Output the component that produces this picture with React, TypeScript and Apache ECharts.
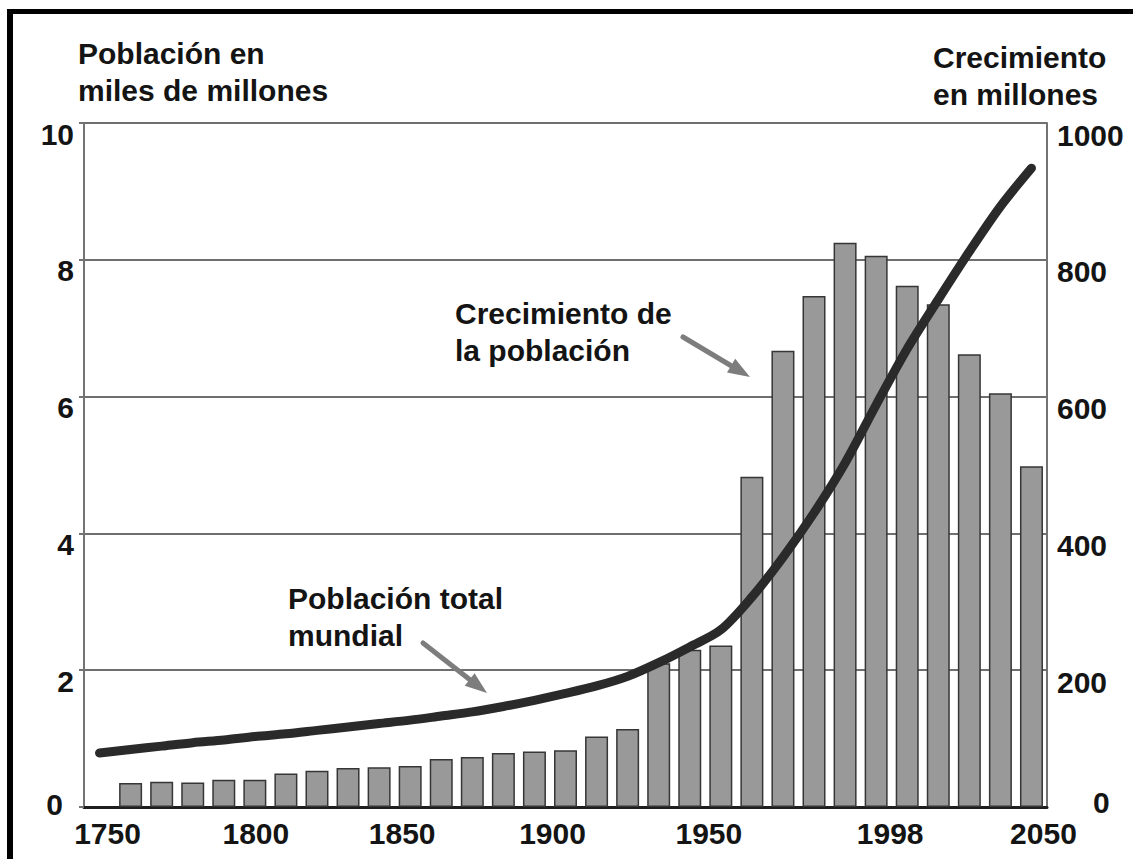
import React, { useEffect, useRef } from "react";
import * as echarts from "echarts";

// Decades on the category axis (first one carries only the population line)
const decades = [
  "1750", "1760", "1770", "1780", "1790", "1800", "1810", "1820", "1830", "1840",
  "1850", "1860", "1870", "1880", "1890", "1900", "1910", "1920", "1930", "1940",
  "1950", "1960", "1970", "1980", "1990", "2000", "2010", "2020", "2030", "2040", "2050",
];

// Growth per decade, millions (right axis)
const growthMillions = [
  null, 35, 37, 36, 40, 40, 49, 53, 57, 58,
  60, 70, 73, 79, 81, 83, 103, 114, 210, 230,
  236, 483, 667, 747, 825, 806, 762, 735, 662, 605, 498,
];

// World population, billions (left axis)
const populationBillions = [
  0.79, 0.84, 0.89, 0.94, 0.98, 1.03, 1.07, 1.12, 1.17, 1.22,
  1.27, 1.33, 1.39, 1.47, 1.56, 1.66, 1.77, 1.91, 2.11, 2.34,
  2.59, 3.07, 3.65, 4.30, 5.03, 5.88, 6.70, 7.42, 8.12, 8.78, 9.34,
];

// Tick labels of the x axis and the category they sit on
const xTickLabels = ["1750", "1800", "1850", "1900", "1950", "1998", "2050"];
const xTickCategory = ["1750", "1800", "1850", "1900", "1950", "2000", "2050"];

const leftTitle = "Población en\nmiles de millones";
const rightTitle = "Crecimiento\nen millones";
const growthNote = "Crecimiento de\nla población";
const popNote = "Población total\nmundial";

const FONT = '"Liberation Sans", Arial, sans-serif';
const FS = 30;
const TXT = "#141414";

// small horizontal nudges of the hand-placed year labels (px, + = right)
const xNudge = [8, 1, -8, -13, -12, 14, 12];

function arrow(x1: number, y1: number, x2: number, y2: number) {
  const dx = x2 - x1, dy = y2 - y1;
  const len = Math.sqrt(dx * dx + dy * dy);
  const ux = dx / len, uy = dy / len;
  const hl = 22, hw = 8;
  const bx = x2 - ux * hl, by = y2 - uy * hl;
  const px = -uy * hw, py = ux * hw;
  return [
    {
      type: "line",
      shape: { x1, y1, x2: bx + ux * 2, y2: by + uy * 2 },
      style: { stroke: "#7d7d7d", lineWidth: 5, lineCap: "round" },
      z: 20,
    },
    {
      type: "polygon",
      shape: { points: [[x2, y2], [bx + px, by + py], [bx - px, by - py]] },
      style: { fill: "#7d7d7d" },
      z: 20,
    },
  ];
}

function textEl(text: string, x: number, y: number) {
  return {
    type: "text",
    x,
    y,
    z: 30,
    style: {
      text,
      font: `bold ${FS}px ${FONT}`,
      fill: TXT,
      lineHeight: 37,
      verticalAlign: "top",
      align: "left",
    },
  };
}

export default function App() {
  const ref = useRef<HTMLDivElement>(null);

  useEffect(() => {
    if (!ref.current) return;
    const chart = echarts.init(ref.current, undefined, { renderer: "svg" });

    const baseLabel = { fontFamily: FONT, fontSize: FS, fontWeight: "bold", color: TXT };

    const xRich: Record<string, any> = {};
    xNudge.forEach((n, k) => {
      xRich["n" + k] = {
        ...baseLabel,
        padding: n >= 0 ? [0, 0, 0, 2 * n] : [0, -2 * n, 0, 0],
      };
    });

    chart.setOption({
      animation: false,
      backgroundColor: "#ffffff",
      grid: { left: 84, right: 86, top: 123, bottom: 52, containLabel: false },
      xAxis: {
        type: "category",
        data: decades,
        boundaryGap: true,
        axisLine: { show: true, lineStyle: { color: "#1e1e1e", width: 3 } },
        axisTick: { show: false },
        splitLine: { show: false },
        axisLabel: {
          interval: 0,
          margin: 11,
          ...baseLabel,
          formatter: (v: string) => {
            const k = xTickCategory.indexOf(v);
            return k < 0 ? "" : `{n${k}|${xTickLabels[k]}}`;
          },
          rich: xRich,
        },
      },
      yAxis: [
        {
          type: "value",
          min: 0,
          max: 10,
          interval: 2,
          position: "left",
          axisLine: { show: true, lineStyle: { color: "#737373", width: 2 } },
          axisTick: { show: true, length: 5, lineStyle: { color: "#737373", width: 2 } },
          splitLine: { show: true, lineStyle: { color: "#6f6f6f", width: 2 } },
          axisLabel: {
            margin: 10,
            align: "right",
            ...baseLabel,
            formatter: (v: number) => (v === 0 ? `{z|0}` : `{a|${v}}`),
            rich: {
              a: { ...baseLabel, padding: [22, 0, 0, 0] },
              z: { ...baseLabel, padding: [0, 11, 6, 0] },
            },
          },
        },
        {
          type: "value",
          min: 0,
          max: 1000,
          interval: 200,
          position: "right",
          axisLine: { show: true, lineStyle: { color: "#737373", width: 2 } },
          axisTick: { show: false },
          splitLine: { show: false },
          axisLabel: {
            margin: 10,
            align: "left",
            ...baseLabel,
            formatter: (v: number) => (v === 0 ? `{z|0}` : `{a|${v}}`),
            rich: {
              a: { ...baseLabel, padding: [24, 0, 0, 0] },
              z: { ...baseLabel, padding: [0, 0, 10, 36] },
            },
          },
        },
      ],
      series: [
        {
          type: "bar",
          name: "Crecimiento",
          yAxisIndex: 1,
          data: growthMillions,
          barWidth: 23,
          itemStyle: { color: "#999999", borderColor: "#363636", borderWidth: 1.5 },
          z: 2,
        },
        {
          type: "line",
          name: "Población",
          yAxisIndex: 0,
          data: populationBillions,
          smooth: 0.3,
          showSymbol: false,
          symbol: "none",
          lineStyle: { color: "#2a2a2a", width: 9, cap: "round" },
          z: 5,
        },
      ],
      graphic: [
        // frame of the picture
        {
          type: "line",
          shape: { x1: 10, y1: 9, x2: 10, y2: 859 },
          style: { stroke: "#000", lineWidth: 6 },
          z: 40,
        },
        {
          type: "line",
          shape: { x1: 7, y1: 11.5, x2: 1133, y2: 11.5 },
          style: { stroke: "#000", lineWidth: 5 },
          z: 40,
        },
        textEl(leftTitle, 78, 35),
        textEl(rightTitle, 933, 39),
        textEl(growthNote, 455, 295),
        textEl(popNote, 288, 580),
        ...arrow(683, 337, 750, 377),
        ...arrow(423, 643, 487, 693),
      ],
    });

    return () => chart.dispose();
  }, []);

  return (
    <div
      ref={ref}
      style={{ position: "fixed", left: 0, top: 0, width: 1133, height: 859, background: "#fff" }}
    />
  );
}
